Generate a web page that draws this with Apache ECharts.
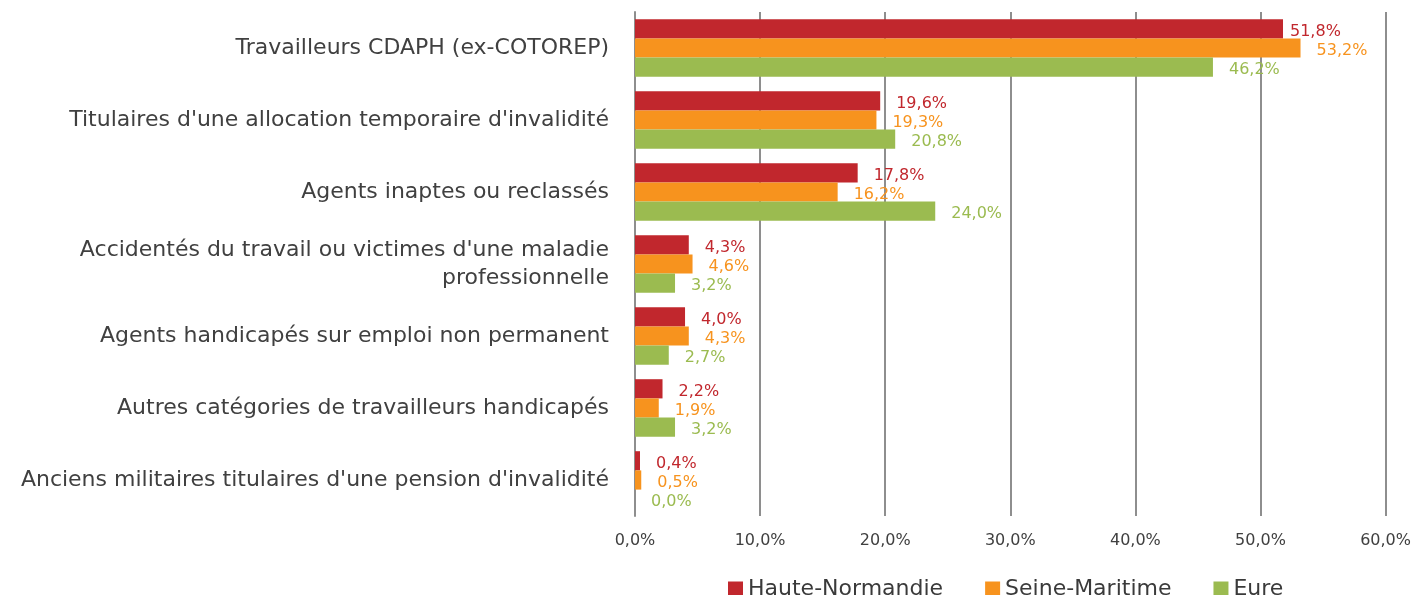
<!DOCTYPE html>
<html lang="fr">
<head>
<meta charset="utf-8" />
<title>Travailleurs handicapés</title>
<script src="https://cdn.jsdelivr.net/npm/echarts@6/dist/echarts.min.js"></script>
<style>
  html, body { margin: 0; padding: 0; background: #fff; }
  #main { width: 1414px; height: 595px; }
</style>
</head>
<body>
<div id="main"></div>
<script>
// categories, top to bottom
var categories = [
    'Travailleurs CDAPH (ex-COTOREP)',
    "Titulaires d'une allocation temporaire d'invalidité",
    'Agents inaptes ou reclassés',
    "Accidentés du travail ou victimes d'une maladie\nprofessionnelle",
    'Agents handicapés sur emploi non permanent',
    'Autres catégories de travailleurs handicapés',
    "Anciens militaires titulaires d'une pension d'invalidité"
];
var hauteNormandie = [51.8, 19.6, 17.8, 4.3, 4.0, 2.2, 0.4];
var seineMaritime = [53.2, 19.3, 16.2, 4.6, 4.3, 1.9, 0.5];
var eure = [46.2, 20.8, 24.0, 3.2, 2.7, 3.2, 0.0];
var xTicks = [0, 10, 20, 30, 40, 50, 60];

var fontFam = '"DejaVu Sans", sans-serif';
var gridColor = '#8e8e8e';

function pct(v) {
    return v.toFixed(1).replace('.', ',') + '%';
}

function makeSeries(name, values, color) {
    return {
        name: name,
        type: 'bar',
        barGap: '0%',
        barCategoryGap: '20%',
        itemStyle: { color: color },
        label: {
            show: true,
            position: 'right',
            distance: 0,
            offset: [16, 3],
            color: color,
            fontFamily: fontFam,
            fontSize: 16,
            formatter: function (p) { return pct(p.value); }
        },
        data: values
    };
}

var series = [
    makeSeries('Haute-Normandie', hauteNormandie, '#c1272d'),
    makeSeries('Seine-Maritime', seineMaritime, '#f7931e'),
    makeSeries('Eure', eure, '#9bbb50')
];
// top red label sits closer to its bar (near the orange one)
series[0].data = hauteNormandie.map(function (v, i) {
    return i === 0 ? { value: v, label: { offset: [7, 3] } } : v;
});

var chart = echarts.init(document.getElementById('main'));
chart.setOption({
    animation: false,
    textStyle: { fontFamily: fontFam },
    grid: { left: 635, right: 22, top: 12, bottom: 79, containLabel: false },
    legend: {
        top: 573,
        left: 723,
        itemWidth: 15,
        itemHeight: 15,
        itemGap: 42,
        icon: 'rect',
        textStyle: { fontFamily: fontFam, fontSize: 22, color: '#3a3a3a' },
        data: ['Haute-Normandie', 'Seine-Maritime', 'Eure']
    },
    xAxis: {
        type: 'value',
        min: xTicks[0],
        max: xTicks[xTicks.length - 1],
        interval: 10,
        axisLine: { show: false },
        axisTick: { show: false },
        splitLine: { show: true, lineStyle: { color: gridColor, width: 2 } },
        axisLabel: {
            margin: 17,
            color: '#404040',
            fontSize: 16,
            fontFamily: fontFam,
            formatter: function (v) { return pct(v); }
        }
    },
    yAxis: {
        type: 'category',
        inverse: true,
        data: categories,
        axisLine: { show: true, lineStyle: { color: gridColor, width: 2 } },
        axisTick: { show: false },
        axisLabel: {
            margin: 26,
            color: '#404040',
            fontSize: 22,
            lineHeight: 28,
            align: 'right',
            fontFamily: fontFam
        }
    },
    series: series
});
</script>
</body>
</html>
